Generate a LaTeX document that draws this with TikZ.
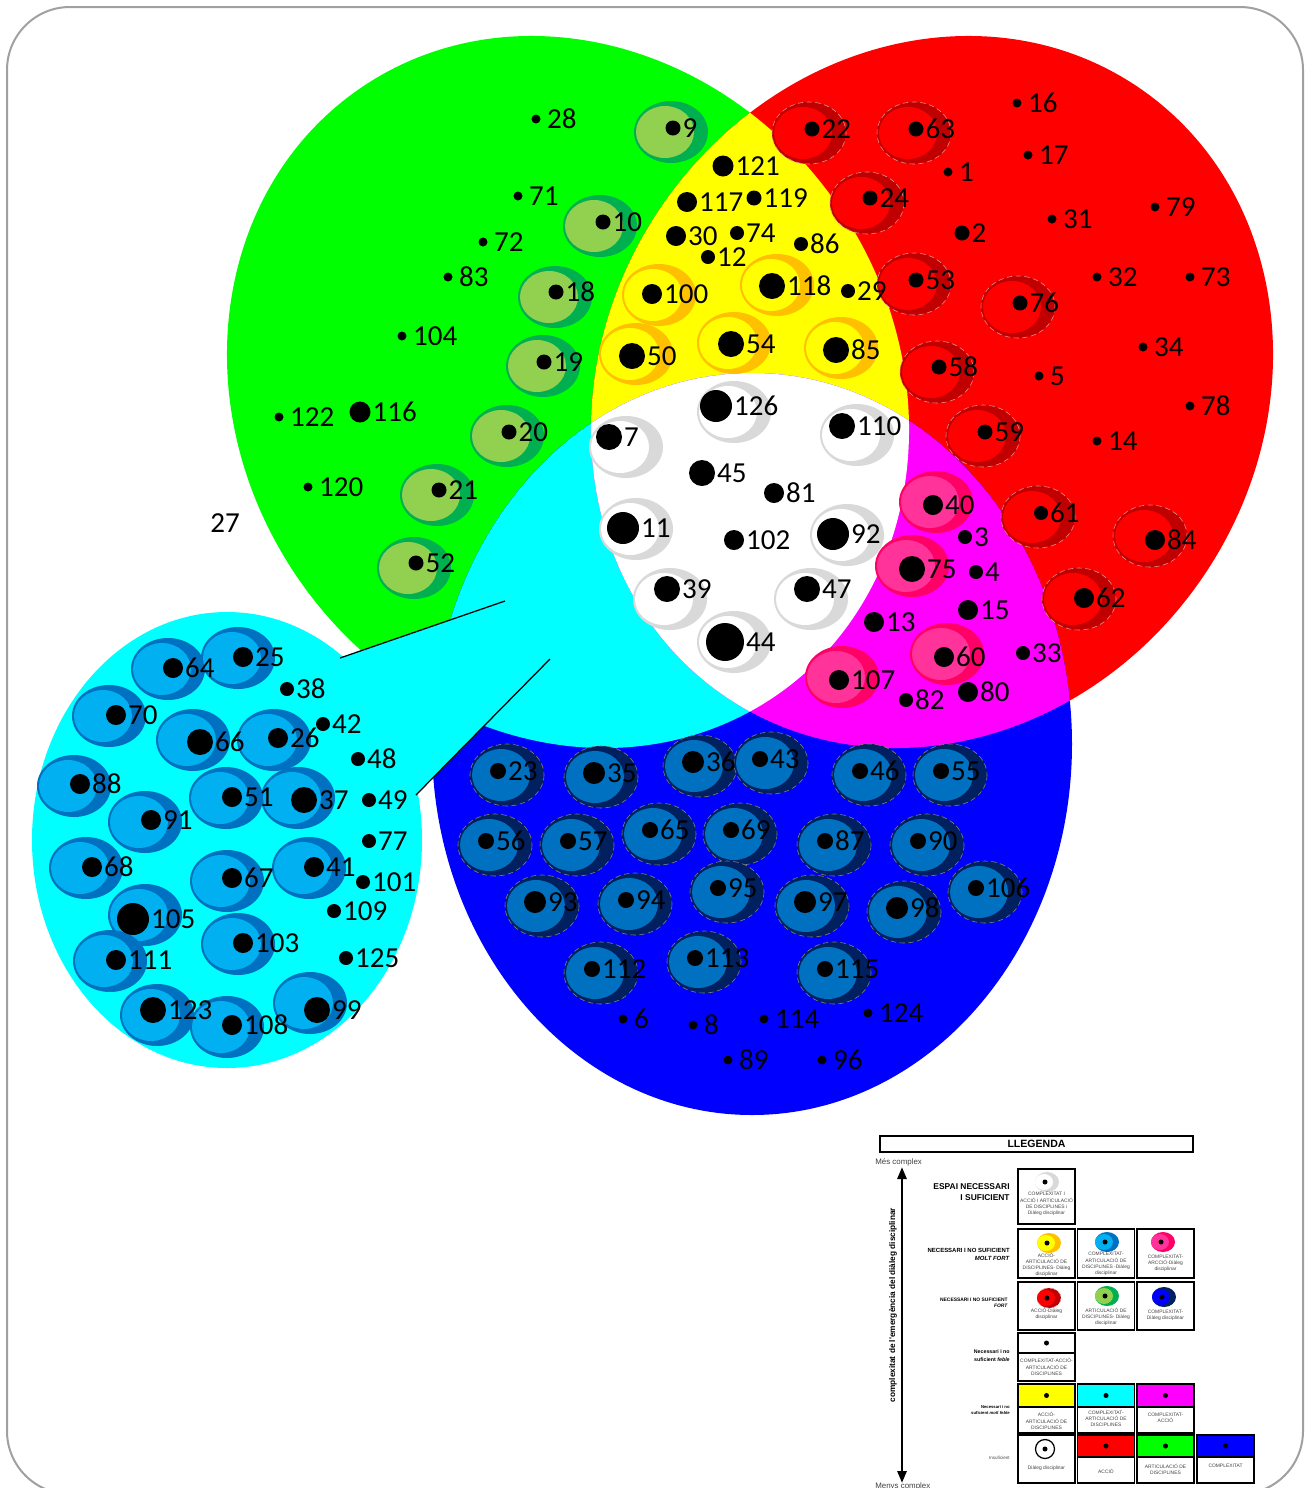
\documentclass[tikz,border=0pt]{standalone}
\usepackage{fontspec}
\setmainfont{Carlito}
\newfontfamily\legfont{Liberation Sans}
\usetikzlibrary{positioning,arrows.meta}

\pgfdeclarelayer{front}
\pgfsetlayers{main,front}

\definecolor{vgreen}{RGB}{0,255,0}
\definecolor{vred}{RGB}{255,0,0}
\definecolor{vblue}{RGB}{0,0,255}
\definecolor{vyellow}{RGB}{255,255,0}
\definecolor{vcyan}{RGB}{0,255,255}
\definecolor{vmagenta}{RGB}{255,0,255}
\definecolor{gdark}{RGB}{0,176,80}
\definecolor{glight}{RGB}{146,208,80}
\definecolor{ydark}{RGB}{255,192,0}
\definecolor{rdark}{RGB}{192,0,0}
\definecolor{rline}{RGB}{230,140,140}
\definecolor{mdark}{RGB}{255,0,102}
\definecolor{mlight}{RGB}{255,51,153}
\definecolor{cdark}{RGB}{0,112,192}
\definecolor{clight}{RGB}{0,176,240}
\definecolor{bdark}{RGB}{0,32,96}
\definecolor{wdark}{RGB}{217,217,217}
\definecolor{framegray}{RGB}{160,160,160}

% dot with its number
\newcommand\pnt[4]{%
  \begin{pgfonlayer}{front}
  \node[dot, minimum size={#3*0.4mm}] (d#4) at (#1,#2) {};
  \node[num, right=0.3mm of d#4] (n#4) {#4};
  \end{pgfonlayer}}
% small dot with its number
\newcommand\spt[3]{%
  \begin{pgfonlayer}{front}
  \node[dot, minimum size=1.8mm] (d#3) at (#1,#2) {};
  \node[num, right=1.2mm of d#3] (n#3) {#3};
  \end{pgfonlayer}}
% cell: kind, centre x, centre y, dot x, dot y, dot radius, number
\newcommand\cel[7]{%
  \fill[rim#1] (#2,#3) ellipse [x radius=37, y radius=31];
  \fill[core#1] ({#2-6},#3) ellipse [x radius=29, y radius=26];
  \pnt{#4}{#5}{#6}{#7}}
% small cell of the legend
\newcommand\icon[3]{%
  \fill[rim#1] (#2,#3) ellipse [x radius=12, y radius=10];
  \fill[core#1] ({#2-3},#3) ellipse [x radius=9, y radius=8];
  \fill ({#2-2},#3) circle [radius=2.5];}

\def\pG{(568,392) ellipse [x radius=368, y radius=328]}
\def\pR{(932,392) ellipse [x radius=368, y radius=328]}
\def\pB{(752,744) ellipse [x radius=320, y radius=371]}

\begin{document}
\begin{tikzpicture}[x=0.2mm, y=-0.2mm,
  dot/.style={circle, fill=black, inner sep=0pt},
  num/.style={font=\fontsize{16.5}{16.5}\selectfont, inner sep=0pt},
  rotG/.style={rotate around={-56:(568,392)}},
  rotR/.style={rotate around={56:(932,392)}},
  rimG/.style={fill=gdark}, coreG/.style={fill=glight},
  rimY/.style={fill=ydark}, coreY/.style={fill=vyellow},
  rimW/.style={fill=wdark}, coreW/.style={fill=white},
  rimR/.style={fill=rdark, draw=rline, densely dashed, line width=0.12mm}, coreR/.style={fill=vred},
  rimM/.style={fill=mdark}, coreM/.style={fill=mlight},
  rimC/.style={fill=cdark}, coreC/.style={fill=clight},
  rimB/.style={fill=bdark, draw=gray, densely dashed, line width=0.12mm}, coreB/.style={fill=cdark},
  rimK/.style={fill=bdark}, coreK/.style={fill=vblue},
  lbox/.style={draw, line width=0.25mm, minimum width=11.4mm, inner sep=0pt},
  leg/.style={font=\legfont\fontsize{2.8}{3.5}\selectfont, text=black!75, align=center, inner sep=0pt},
  rowlab/.style={anchor=east, align=right, inner sep=0pt},
  axis/.style={line width=0.55mm, {Triangle[length=2.4mm,width=1.8mm]}-{Triangle[length=2.4mm,width=1.8mm]}}
]
\useasboundingbox (0,0) rectangle (1312,1488);
\clip (0,0) rectangle (1312,1488);

% frame
\draw[framegray, line width=0.4mm, rounded corners=12.6mm] (7,7) rectangle (1303,1494);

% three sets and their overlaps
\fill[vgreen, rotG] \pG;
\fill[vred, rotR] \pR;
\fill[vblue] \pB;
\begin{scope}
  \clip[rotG] \pG;
  \fill[vyellow, rotR] \pR;
  \fill[vcyan] \pB;
\end{scope}
\begin{scope}
  \clip[rotR] \pR;
  \fill[vmagenta] \pB;
  \clip[rotG] \pG;
  \fill[white] \pB;
\end{scope}

% callout
\coordinate (calA) at (340,658);
\coordinate (tipA) at (505,601);
\coordinate (calB) at (416,795);
\coordinate (tipB) at (550,659);
\fill[vcyan] (227,840) ellipse [x radius=195, y radius=228];
\fill[vcyan] (calA) -- (tipA) -- (tipB) -- (calB) -- cycle;
\draw[line width=0.25mm] (calA) -- (tipA);
\draw[line width=0.25mm] (calB) -- (tipB);

% green
\spt{536}{119}{28}
\cel{G}{671}{132}{673}{128}{7.5}{9}
\spt{518}{196}{71}
\cel{G}{600}{226}{603}{222}{7.5}{10}
\spt{483}{242}{72}
\spt{448}{277}{83}
\cel{G}{555}{297}{556}{292}{7.5}{18}
\spt{402}{336}{104}
\cel{G}{543}{366}{544}{362}{7.5}{19}
\spt{279}{417}{122}
\pnt{360}{412}{10.5}{116}
\cel{G}{507}{436}{509}{432}{7.5}{20}
\spt{308}{487}{120}
\cel{G}{437}{495}{439}{490}{7.5}{21}
\cel{G}{414}{568}{416}{563}{7.5}{52}
\node[num] (n27) at (225,523) {27};

% yellow
\pnt{723}{166}{10.5}{121}
\pnt{687}{202}{10}{117}
\pnt{754}{198}{7.5}{119}
\pnt{676}{236}{10}{30}
\pnt{737}{233}{7}{74}
\pnt{708}{257}{7}{12}
\pnt{801}{244}{7}{86}
\cel{Y}{659}{295}{652}{294}{10}{100}
\cel{Y}{777}{285}{772}{286}{13}{118}
\pnt{848}{291}{7}{29}
\cel{Y}{636}{354}{632}{356}{13}{50}
\cel{Y}{734}{343}{731}{344}{13}{54}
\cel{Y}{841}{348}{836}{350}{13}{85}

% white
\cel{W}{734}{412}{716}{406}{16}{126}
\cel{W}{626}{447}{609}{437}{13}{7}
\cel{W}{857}{435}{842}{426}{13}{110}
\pnt{702}{473}{13}{45}
\pnt{774}{493}{10}{81}
\cel{W}{636}{529}{623}{528}{16}{11}
\pnt{734}{540}{10}{102}
\cel{W}{847}{535}{833}{534}{16}{92}
\cel{W}{670}{599}{667}{589}{13}{39}
\cel{W}{811}{599}{807}{589}{13}{47}
\cel{W}{734}{642}{725}{642}{19}{44}

% red
\cel{R}{809}{133}{812}{129}{7.5}{22}
\cel{R}{914}{133}{916}{129}{7.5}{63}
\spt{1017}{103}{16}
\spt{1028}{155}{17}
\spt{948}{172}{1}
\cel{R}{867}{203}{870}{198}{7.5}{24}
\spt{1155}{207}{79}
\spt{1052}{219}{31}
\pnt{962}{233}{7.5}{2}
\cel{R}{914}{284}{916}{280}{7.5}{53}
\spt{1097}{277}{32}
\spt{1190}{277}{73}
\cel{R}{1018}{307}{1020}{303}{7.5}{76}
\spt{1143}{347}{34}
\cel{R}{937}{372}{939}{367}{7.5}{58}
\spt{1039}{376}{5}
\spt{1190}{406}{78}
\cel{R}{983}{436}{985}{432}{7.5}{59}
\spt{1097}{441}{14}
\cel{R}{1038}{517}{1041}{513}{7}{61}
\cel{R}{1150}{536}{1155}{540}{10}{84}
\cel{R}{1079}{599}{1084}{598}{10}{62}

% magenta
\cel{M}{936}{502}{933}{505}{10}{40}
\pnt{965}{537}{7}{3}
\cel{M}{912}{566}{912}{569}{13}{75}
\pnt{976}{572}{7}{4}
\pnt{968}{610}{10}{15}
\pnt{874}{622}{10}{13}
\cel{M}{947}{654}{944}{657}{10}{60}
\pnt{1023}{653}{7}{33}
\cel{M}{842}{677}{839}{680}{10}{107}
\pnt{906}{700}{7}{82}
\pnt{968}{692}{10}{80}

% cyan (callout)
\cel{C}{168}{669}{173}{668}{10}{64}
\cel{C}{238}{658}{243}{657}{10}{25}
\pnt{287}{689}{7}{38}
\cel{C}{109}{716}{116}{715}{10}{70}
\pnt{323}{724}{7}{42}
\cel{C}{193}{740}{200}{742}{13}{66}
\cel{C}{274}{740}{278}{738}{10}{26}
\pnt{358}{759}{7}{48}
\cel{C}{74}{786}{80}{784}{10}{88}
\cel{C}{226}{798}{232}{797}{10}{51}
\cel{C}{298}{798}{304}{800}{13}{37}
\pnt{369}{800}{7}{49}
\cel{C}{145}{822}{151}{820}{10}{91}
\pnt{369}{841}{7}{77}
\cel{C}{86}{868}{92}{867}{10}{68}
\cel{C}{227}{881}{232}{878}{10}{67}
\cel{C}{309}{868}{314}{867}{10}{41}
\pnt{363}{882}{7}{101}
\cel{C}{145}{915}{133}{919}{16}{105}
\pnt{334}{911}{7}{109}
\cel{C}{238}{944}{243}{943}{10}{103}
\cel{C}{110}{961}{116}{960}{10}{111}
\pnt{346}{958}{7}{125}
\cel{C}{157}{1015}{153}{1010}{13}{123}
\cel{C}{227}{1027}{232}{1025}{10}{108}
\cel{C}{310}{1003}{317}{1010}{13}{99}

% blue
\cel{B}{507}{775}{498}{771}{8}{23}
\cel{B}{601}{777}{594}{773}{11}{35}
\cel{B}{700}{766}{693}{762}{11}{36}
\cel{B}{771}{763}{760}{759}{8}{43}
\cel{B}{869}{775}{860}{771}{8}{46}
\cel{B}{950}{775}{941}{771}{8}{55}
\cel{B}{495}{845}{486}{841}{8}{56}
\cel{B}{577}{845}{568}{841}{8}{57}
\cel{B}{659}{834}{650}{830}{8}{65}
\cel{B}{740}{834}{731}{830}{8}{69}
\cel{B}{834}{845}{825}{841}{8}{87}
\cel{B}{927}{845}{918}{841}{8}{90}
\cel{B}{985}{892}{976}{888}{8}{106}
\cel{B}{542}{906}{535}{902}{11}{93}
\cel{B}{635}{904}{626}{900}{8}{94}
\cel{B}{727}{892}{718}{888}{8}{95}
\cel{B}{812}{906}{805}{902}{11}{97}
\cel{B}{904}{912}{897}{908}{11}{98}
\cel{B}{601}{973}{592}{969}{8}{112}
\cel{B}{704}{962}{695}{958}{8}{113}
\cel{B}{834}{973}{825}{969}{8}{115}
\spt{623}{1019}{6}
\spt{693}{1025}{8}
\spt{764}{1019}{114}
\spt{868}{1013}{124}
\spt{728}{1060}{89}
\spt{822}{1060}{96}

% legend
\node[draw, line width=0.25mm, minimum width=62.6mm, minimum height=3.2mm, inner sep=0pt,
  font=\legfont\bfseries\fontsize{6}{6}\selectfont] (title) at (1036.5,1144) {LLEGENDA};
\node[font=\legfont\fontsize{4.5}{4.5}\selectfont, text=black!75, anchor=west, inner sep=0pt] (more) at (875,1162) {Més complex};
\node[font=\legfont\fontsize{4.5}{4.5}\selectfont, text=black!75, anchor=west, inner sep=0pt] (less) at (875,1486) {Menys complex};
\coordinate (axtop) at (902,1167);
\coordinate (axbot) at (902,1483);
\draw[axis] (axtop) -- (axbot);
\node[rotate=90, font=\legfont\bfseries\fontsize{4.7}{4.7}\selectfont, inner sep=0pt] (axlab) at (893,1305)
  {complexitat de l'emergència del diàleg disciplinar};

\node[rowlab, font=\legfont\bfseries\fontsize{4.8}{6.2}\selectfont] (lab1) at (1010,1192) {ESPAI NECESSARI\\I SUFICIENT};
\node[rowlab, font=\legfont\bfseries\fontsize{3.4}{4.6}\selectfont] (lab2) at (1010,1254) {NECESSARI I NO SUFICIENT\\\textit{MOLT FORT}};
\node[rowlab, font=\legfont\bfseries\fontsize{2.8}{3.2}\selectfont] (lab3) at (1008,1303) {NECESSARI I NO SUFICIENT\\\textit{FORT}};
\node[rowlab, font=\legfont\bfseries\fontsize{3}{4.6}\selectfont] (lab4) at (1010,1356) {Necessari i no\\suficient \textit{feble}};
\node[rowlab, font=\legfont\bfseries\fontsize{2.4}{3}\selectfont] (lab5) at (1010,1410) {Necessari i no\\suficient \textit{molt feble}};
\node[rowlab, font=\legfont\fontsize{2.6}{3}\selectfont, text=black!70] (lab6) at (1010,1458) {Insuficient};

% legend boxes
\node[lbox, minimum height=11mm] (box11) at (1046.5,1196.5) {};
\foreach \c/\x in {1/1046.5, 2/1106, 3/1165.5} {
  \node[lbox, minimum height=9.8mm] (box2\c) at (\x,1253.5) {};
  \node[lbox, minimum height=9.6mm] (box3\c) at (\x,1306) {};
  \node[lbox, minimum height=9.8mm] (box5\c) at (\x,1408.5) {};
}
\node[lbox, minimum height=9.6mm] (box41) at (1046.5,1357) {};
\node[lbox, minimum height=4mm, anchor=north] (top41) at (box41.north) {};
\foreach \c/\x/\col in {1/1046.5/vyellow, 2/1106/vcyan, 3/1165.5/vmagenta}
  \node[lbox, fill=\col, minimum height=4.6mm, anchor=north] (top5\c) at (box5\c.north) {};
\foreach \c/\x in {1/1046.5, 2/1106, 3/1165.5, 4/1225.5}
  \node[lbox, minimum height=9.6mm] (box6\c) at (\x,1459) {};
\foreach \c/\col in {2/vred, 3/vgreen, 4/vblue}
  \node[lbox, fill=\col, minimum height=4.4mm, anchor=north] (top6\c) at (box6\c.north) {};

% legend marks
\icon{W}{1047}{1182}
\icon{Y}{1049}{1243}
\icon{C}{1107}{1242}
\icon{M}{1163}{1242}
\icon{R}{1049}{1298}
\icon{G}{1107}{1296}
\icon{K}{1164}{1297}
\foreach \n in {top41, top51, top52, top53, top62, top63, top64}
  \fill (\n.center) circle [radius=2.5];
\draw[line width=0.25mm] (1045,1449) circle [radius=9.5];
\fill (1045,1449) circle [radius=2.5];

% legend texts
\node[leg] (t11) at (1046.5,1204) {COMPLEXITAT I\\ACCIÓ I ARTICULACIÓ\\DE DISCIPLINES i\\Diàleg disciplinar};
\node[leg] (t21) at (1046.5,1265) {ACCIÓ-\\ARTICULACIÓ DE\\DISCIPLINES- Diàleg\\disciplinar};
\node[leg] (t22) at (1106,1264) {COMPLEXITAT-\\ARTICULACIÓ DE\\DISCIPLINES -Diàleg\\disciplinar};
\node[leg] (t23) at (1165.5,1263) {COMPLEXITAT-\\ARCCIÓ-Diàleg\\disciplinar};
\node[leg] (t31) at (1046.5,1314) {ACCIÓ-Diàleg\\disciplinar};
\node[leg] (t32) at (1106,1317) {ARTICULACIÓ DE\\DISCIPLINES- Diàleg\\disciplinar};
\node[leg] (t33) at (1165.5,1315) {COMPLEXITAT-\\Diàleg disciplinar};
\node[leg] (t41) at (1046.5,1367) {COMPLEXITAT-ACCIÓ-\\ARTICULACIÓ DE\\DISCIPLINES};
\node[leg] (t51) at (1046.5,1421) {ACCIÓ-\\ARTICULACIÓ DE\\DISCIPLINES};
\node[leg] (t52) at (1106,1419) {COMPLEXITAT-\\ARTICULACIÓ DE\\DISCIPLINES};
\node[leg] (t53) at (1165.5,1418) {COMPLEXITAT-\\ACCIÓ};
\node[leg] (t61) at (1046.5,1468) {Diàleg disciplinar};
\node[leg] (t62) at (1106,1471) {ACCIÓ};
\node[leg] (t63) at (1165.5,1469) {ARTICULACIÓ DE\\DISCIPLINES};
\node[leg] (t64) at (1225.5,1466) {COMPLEXITAT};
\end{tikzpicture}
\end{document}
